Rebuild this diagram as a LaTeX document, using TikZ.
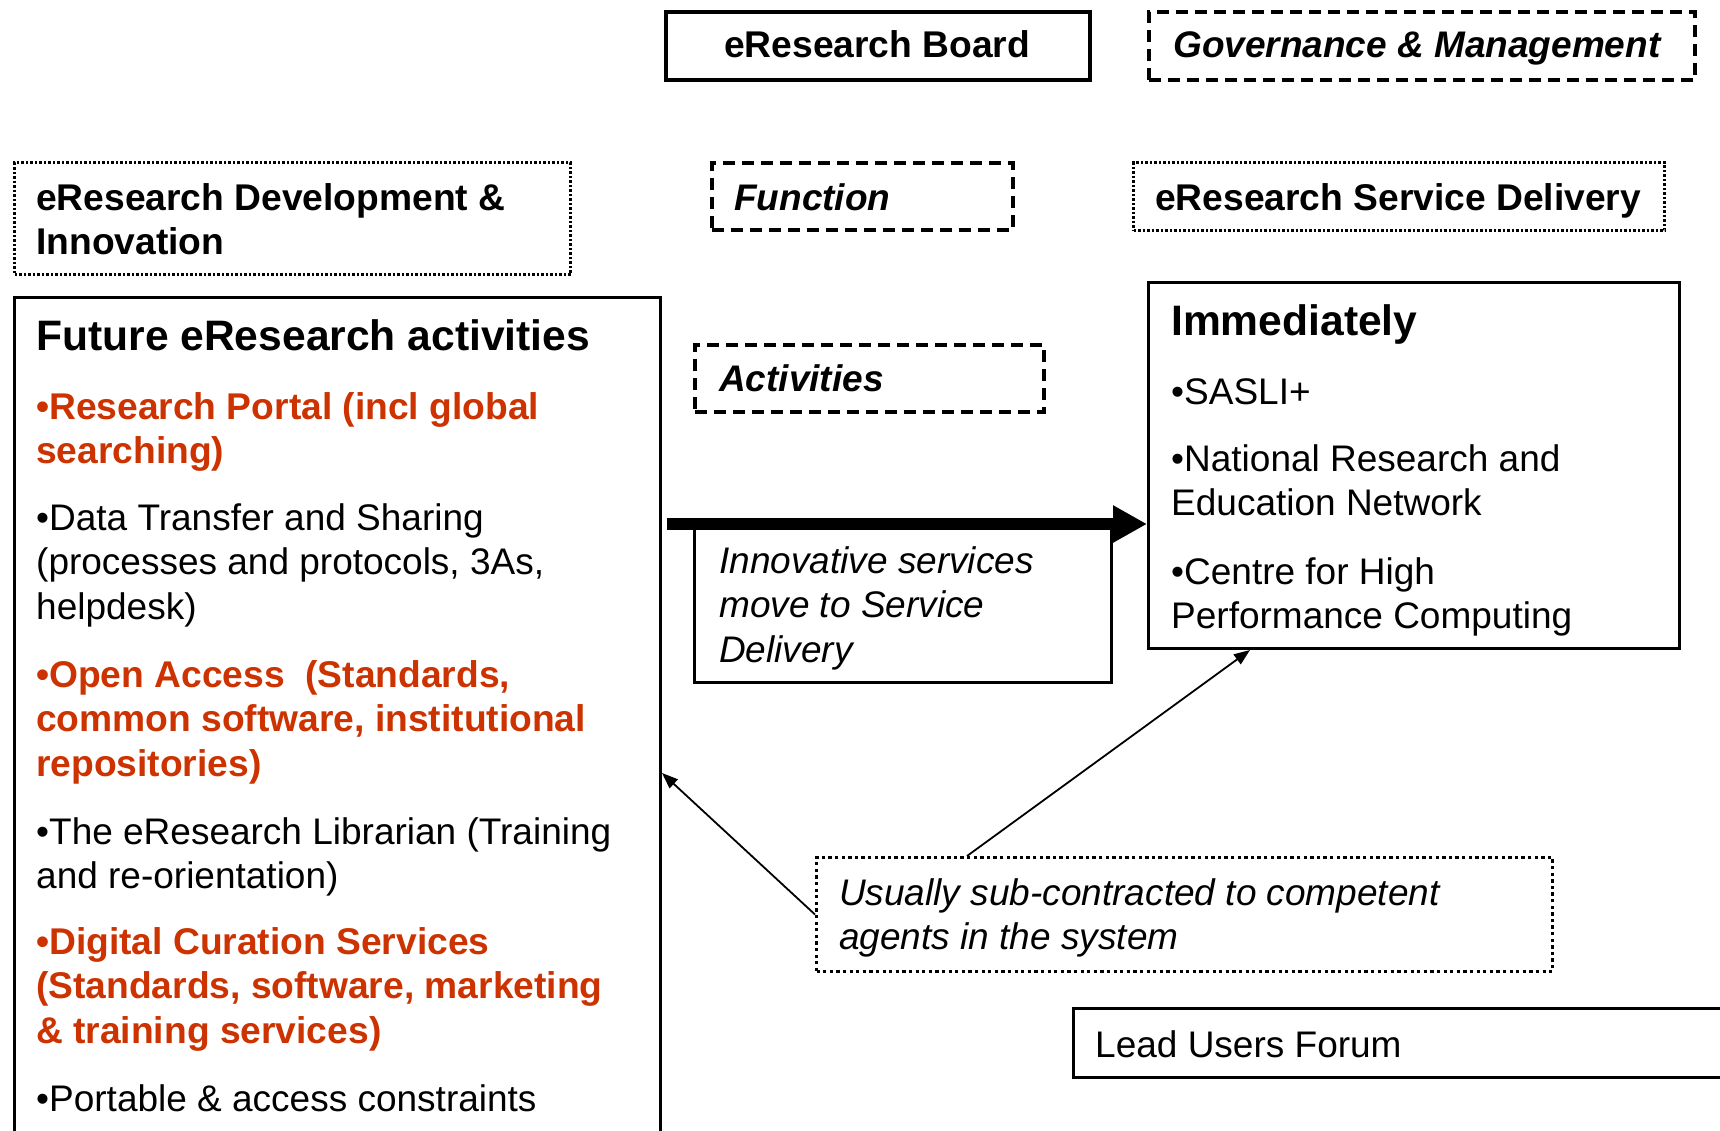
\documentclass[tikz,border=0pt]{standalone}
\usepackage{fontspec}
\setmainfont{Liberation Sans}
\usetikzlibrary{arrows.meta}
\definecolor{accent}{RGB}{204,51,0}
\newcommand\mlines[1]{\begin{tabular}[t]{@{}l@{}}#1\end{tabular}}
\begin{document}
\begin{tikzpicture}[x=1pt,y=-1pt,
  boxbase/.style={draw=black, inner sep=0pt, anchor=north west, fill=none},
  solidbox/.style={boxbase, line width=3pt},
  dashbox/.style={boxbase, line width=3.5pt, dash pattern=on 12pt off 7pt},
  dotbox/.style={boxbase, line width=3pt, dash pattern=on 2.5pt off 2pt},
  dotboxb/.style={boxbase, line width=3pt, dash pattern=on 3.3pt off 3.3pt},
  txt/.style={inner sep=0pt, anchor=base west, font=\fontsize{37}{44.5}\selectfont},
  btxt/.style={txt, font=\fontsize{37.2}{44.5}\selectfont\bfseries},
  bitxt/.style={txt, font=\fontsize{37}{44.5}\selectfont\bfseries\itshape},
  itxt/.style={txt, font=\fontsize{37}{44.5}\selectfont\itshape},
  rtxt/.style={btxt, text=accent},
  head/.style={txt, font=\fontsize{42.6}{50}\selectfont\bfseries},
  thin/.style={line width=1.8pt, -{Triangle[length=16pt,width=12pt]}},
]
\useasboundingbox (0,0) rectangle (1720,1130);
\clip (0,0) rectangle (1720,1130);
\fill[white] (0,0) rectangle (1720,1130);

% top row
\node[solidbox, line width=4pt, minimum width=424pt, minimum height=68pt] (board) at (664,10) {};
\node[btxt] (boardt) at (724,57) {eResearch Board};
\node[dashbox, minimum width=546pt, minimum height=68pt] (gov) at (1147,10) {};
\node[bitxt] (govt) at (1173,57) {Governance \& Management};

% second row
\node[dotbox, minimum width=556pt, minimum height=112pt] (dev) at (13,161) {};
\node[btxt] (devt) at (36,210) {\mlines{eResearch Development \&\\Innovation}};
\node[dashbox, minimum width=301pt, minimum height=67pt] (func) at (710,161) {};
\node[bitxt] (funct) at (734,210) {Function};
\node[dotbox, minimum width=531pt, minimum height=68pt] (sd) at (1132,161) {};
\node[btxt] (sdt) at (1155,210) {eResearch Service Delivery};

% future activities box
\node[solidbox, minimum width=646pt, minimum height=900pt] (future) at (13,296) {};
\node[head] (futh) at (36,350) {Future eResearch activities};
\node[rtxt] (p1) at (36,419) {\mlines{•Research Portal (incl global\\searching)}};
\node[txt] (p2) at (36,530) {\mlines{•Data Transfer and Sharing\\(processes and protocols, 3As,\\helpdesk)}};
\node[rtxt] (p3) at (36,687) {\mlines{•Open Access\ \ (Standards,\\common software, institutional\\repositories)}};
\node[txt] (p4) at (36,844) {\mlines{•The eResearch Librarian (Training\\and re-orientation)}};
\node[rtxt] (p5) at (36,954) {\mlines{•Digital Curation Services\\(Standards, software, marketing\\\& training services)}};
\node[txt] (p6) at (36,1111) {•Portable \& access constraints};

% activities
\node[dashbox, minimum width=349pt, minimum height=67pt] (act) at (693,343) {};
\node[bitxt] (actt) at (719,391) {Activities};

% innovative services
\node[solidbox, minimum width=417pt, minimum height=157pt] (innov) at (693,524) {};
\node[itxt] (innovt) at (719,573) {\mlines{Innovative services\\move to Service\\Delivery}};

% immediately
\node[solidbox, minimum width=531pt, minimum height=366pt] (imm) at (1147,281) {};
\node[head] (immh) at (1171,335) {Immediately};
\node[txt] (q1) at (1171,404) {•SASLI+};
\node[txt] (q2) at (1171,471) {\mlines{•National Research and\\Education Network}};
\node[txt] (q3) at (1171,584) {\mlines{•Centre for High\\Performance Computing}};

% usually
\node[dotboxb, minimum width=736pt, minimum height=114pt] (usu) at (815,856) {};
\node[itxt] (usut) at (839,905) {\mlines{Usually sub-contracted to competent\\agents in the system}};

% lead users
\node[solidbox, minimum width=700pt, minimum height=69pt] (lead) at (1072,1007) {};
\node[txt] (leadt) at (1095,1057) {Lead Users Forum};

% connectors
\draw[line width=12pt, -{Triangle[length=34pt,width=35pt]}] ([xshift=5pt]future.east |- innov.north) -- (imm.west |- innov.north);
\draw[thin] (usu.west) -- (future.east |- 0,773);
\draw[thin] (967,0 |- usu.north) -- (1250,0 |- imm.south);
\end{tikzpicture}
\end{document}
